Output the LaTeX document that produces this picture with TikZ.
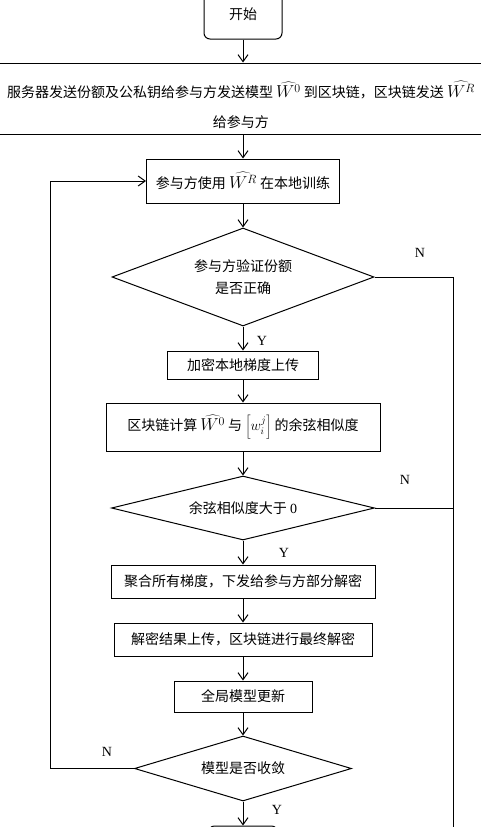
\documentclass[tikz,border=0pt]{standalone}
\usepackage{fontspec}
\setmainfont{Liberation Serif}
\newfontfamily\cjk{Noto Sans CJK SC}
\usetikzlibrary{shapes.geometric,arrows.meta}

\newcommand{\hatW}[1]{{\fontsize{17}{18}\selectfont$\widehat{W^{#1}}$}}

\begin{document}
\begin{tikzpicture}[x=1pt,y=1pt,line width=1pt,
        >={Straight Barb[length=7pt,width=10pt]},
        every node/.style={font=\cjk\fontsize{14}{18}\selectfont},
        stepbox/.style={shape=rectangle,draw=black,inner sep=2pt},
        decision/.style={shape=diamond,draw=black,inner sep=0pt},
        terminal/.style={shape=rectangle,rounded corners=6pt,draw=black},
        yn/.style={font=\rmfamily\fontsize{14}{16}\selectfont}]
        \useasboundingbox (0,0) rectangle (480,-827);

        \node[terminal,minimum width=78pt,minimum height=50pt] (start) at (243,-14) {开始};
        \node[stepbox,minimum width=492pt,minimum height=71pt,align=center] (serve) at (241,-98.5)
            {\rule{0pt}{29pt}服务器发送份额及公私钥给参与方发送模型 \hatW{0} 到区块链，区块链发送 \hatW{R}\\[12pt]给参与方};
        \node[stepbox,minimum width=193pt,minimum height=44pt] (train) at (243,-181) {参与方使用 \hatW{R} 在本地训练};
        \node[decision,aspect=2.67,minimum width=262pt,minimum height=98pt,align=center] (share) at (243,-277) {参与方验证份额\\[4pt]是否正确};
        \node[stepbox,minimum width=151pt,minimum height=28pt] (encrypt) at (243,-365) {加密本地梯度上传};
        \node[stepbox,minimum width=274pt,minimum height=48pt] (calc) at (243,-427)
            {区块链计算 \hatW{0} 与 $\biggl[w_i^j\biggr]$ 的余弦相似度};
        \node[decision,aspect=4.1,minimum width=263pt,minimum height=64pt] (cosine) at (243,-508) {余弦相似度大于 {\rmfamily 0}};
        \node[stepbox,minimum width=264pt,minimum height=33pt] (aggregate) at (243,-581.5) {聚合所有梯度，下发给参与方部分解密};
        \node[stepbox,minimum width=258pt,minimum height=33pt] (decrypt) at (243,-639.5) {解密结果上传，区块链进行最终解密};
        \node[stepbox,minimum width=138pt,minimum height=31pt] (update) at (243,-696.5) {全局模型更新};
        \node[decision,aspect=3.34,minimum width=217pt,minimum height=65pt] (converge) at (243,-768.5) {模型是否收敛};
        \node[terminal,minimum width=69pt,minimum height=40pt] (finish) at (243,-846) {};

        \node[yn] (y1) at (262,-341) {Y};
        \node[yn] (n1) at (420,-253) {N};
        \node[yn] (y2) at (284,-553) {Y};
        \node[yn] (n2) at (405,-480) {N};
        \node[yn] (y3) at (277,-810) {Y};
        \node[yn] (n3) at (107,-752) {N};

        \coordinate (loopL) at (50,-768.5);
        \coordinate (railT) at (453,-277);
        \coordinate (railB) at (453,-840);

        \path [->] (start) edge (start |- serve.north);
        \path [->] (start |- serve.south) edge (train);
        \path [->] (train) edge (share);
        \path [->] (share) edge (encrypt);
        \path [->] (encrypt) edge (calc);
        \path [->] (calc) edge (cosine);
        \path [->] (cosine) edge (aggregate);
        \path [->] (aggregate) edge (decrypt);
        \path [->] (decrypt) edge (update);
        \path [->] (update) edge (converge);
        \path [->] (converge) edge (finish);

        \draw [->] (converge) -- (loopL) |- (train);
        \draw (share) -- (railT) -- (railB);
        \draw (cosine) -- (cosine -| railT);
    \end{tikzpicture}
\end{document}
